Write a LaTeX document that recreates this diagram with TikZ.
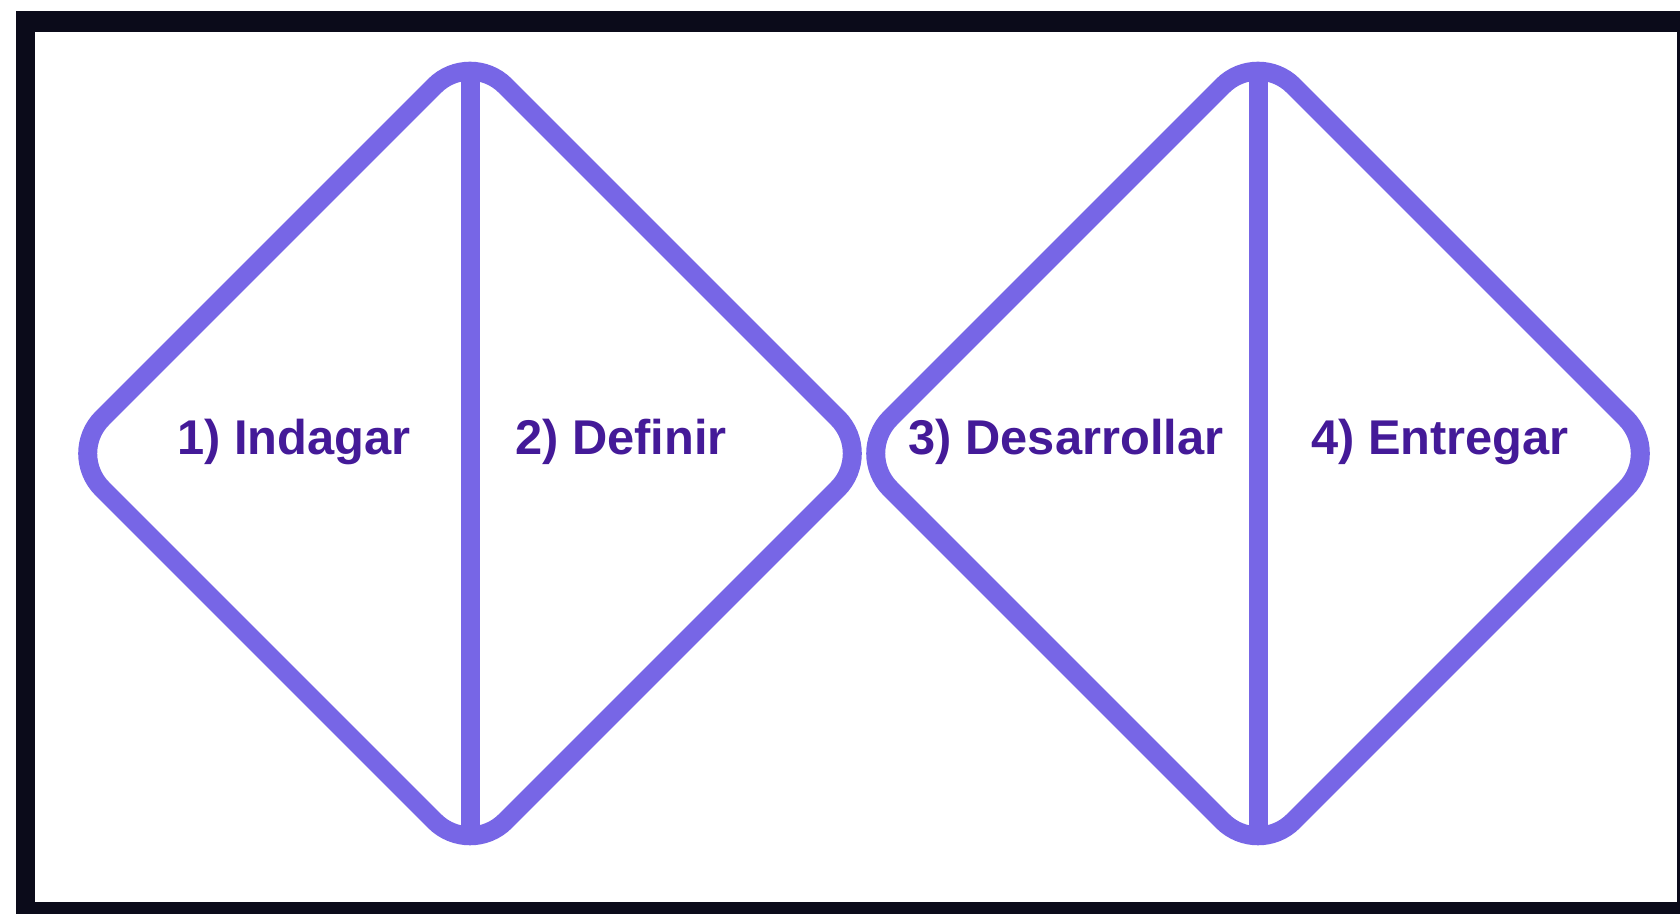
\documentclass[tikz,border=0pt]{standalone}
\usepackage{fontspec}
\setmainfont{Liberation Sans}
\usepackage{tikz}
\definecolor{cFrame}{RGB}{11,11,26}
\definecolor{cLine}{RGB}{119,102,230}
\definecolor{cText}{RGB}{68,26,152}

\begin{document}
\begin{tikzpicture}[x=0.5pt,y=0.5pt,
  rhomb/.style={draw=cLine,line width=9.5pt,rounded corners=25pt},
  split/.style={draw=cLine,line width=9.5pt},
  lbl/.style={anchor=base,text=cText,font=\fontsize{24.4}{28}\selectfont\bfseries}]
\fill[white] (0,0) rectangle (1680,914);
\fill[cFrame] (16,0) rectangle (1680,903);
\fill[white] (35,12) rectangle (1677,882);
% left diamond
\draw[rhomb] (268.5,662) -- (470,863.5) -- (873,460.5) -- (470,57.5) -- (67,460.5) -- cycle;
\coordinate (topA) at (470,843);
\coordinate (botA) at (470,78);
\draw[split] (topA) -- (botA);
% right diamond
\draw[rhomb] (1056.5,662) -- (1258,863.5) -- (1661,460.5) -- (1258,57.5) -- (855,460.5) -- cycle;
\coordinate (topB) at (1258,843);
\coordinate (botB) at (1258,78);
\draw[split] (topB) -- (botB);
\node[lbl] (indagar) at (294,459) {1) Indagar};
\node[lbl] (definir) at (621,459) {2) Definir};
\node[lbl] (desarrollar) at (1066,459) {3) Desarrollar};
\node[lbl] (entregar) at (1440,459) {4) Entregar};
\end{tikzpicture}
\end{document}
